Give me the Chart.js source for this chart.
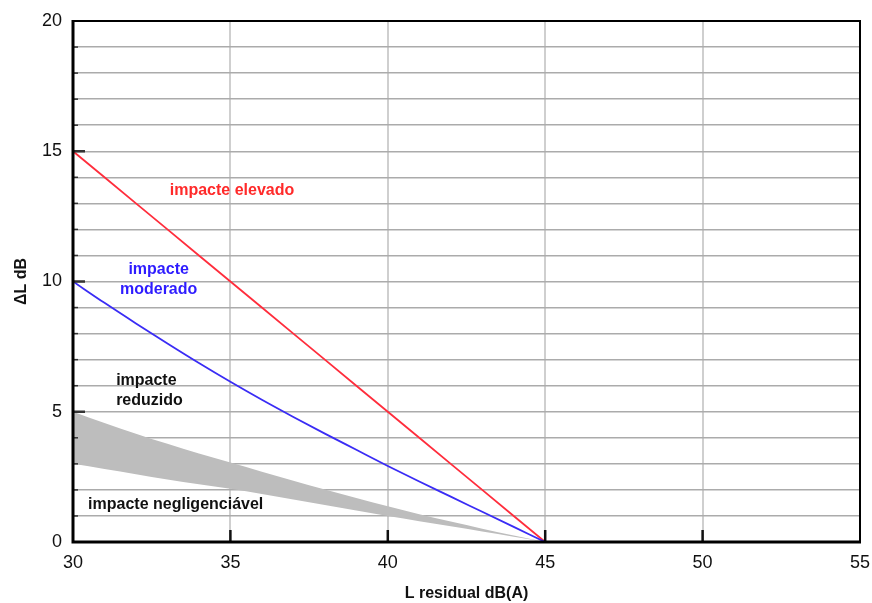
<!DOCTYPE html>
<html><head><meta charset="utf-8">
<script src="https://cdn.jsdelivr.net/npm/chart.js@4/dist/chart.umd.min.js"></script>
<style>html,body{margin:0;padding:0;background:#fff}#wrap{width:872px;height:603px}</style>
</head><body><div id="wrap"><canvas id="c" width="872" height="603"></canvas></div>
<script>
const xValues = [30,31,32,33,34,35,36,37,38,39,40,41,42,43,44,45];
const elevadoLine = [15,14,13,12,11,10,9,8,7,6,5,4,3,2,1,0];
const moderadoLine = [10,9.18,8.39,7.62,6.87,6.15,5.46,4.80,4.16,3.54,2.92,2.32,1.74,1.16,0.58,0];
const bandUpper = [5,4.57,4.16,3.77,3.40,3.05,2.70,2.355,2.02,1.69,1.37,1.07,0.785,0.51,0.25,0];
const bandLower = [3,2.8,2.6,2.4,2.22,2.04,1.84,1.63,1.42,1.21,1.0,0.8,0.6,0.4,0.2,0];
const xTicks = [30,35,40,45,50,55];
const yTicks = [0,5,10,15,20];
const regionLabels = [
  {lines:['impacte elevado'], x:35.05, y:13.5, color:'#ff2a2a', align:'center'},
  {lines:['impacte','moderado'], x:32.72, y:10.44, color:'#2e1cff', align:'center'},
  {lines:['impacte','reduzido'], x:31.37, y:6.2, color:'#111', align:'left'},
  {lines:['impacte negligenciável'], x:30.48, y:1.42, color:'#111', align:'left'}
];
const pts = arr => xValues.map((x,i)=>({x, y:arr[i]}));
const FONT = '"Liberation Sans", Arial, sans-serif';

const framePlugin = {
  id:'frame',
  afterDatasetsDraw(chart){
    const {ctx, chartArea:a, scales:{x, y}} = chart;
    ctx.save();
    ctx.strokeStyle = '#333';
    for (let v=1; v<20; v++){
      const py = y.getPixelForValue(v);
      const major = v % 5 === 0;
      ctx.lineWidth = major ? 2.5 : 1.5;
      ctx.beginPath(); ctx.moveTo(a.left, py); ctx.lineTo(a.left + (major ? 12 : 5), py); ctx.stroke();
    }
    ctx.strokeStyle = '#111';
    ctx.lineWidth = 2.5;
    for (const v of [35,40,45,50]){
      const px = x.getPixelForValue(v);
      ctx.beginPath(); ctx.moveTo(px, a.bottom); ctx.lineTo(px, a.bottom - 12); ctx.stroke();
    }
    ctx.strokeStyle = '#000';
    ctx.lineWidth = 2;
    ctx.strokeRect(a.left, a.top, a.right - a.left, a.bottom - a.top);
    ctx.lineWidth = 3;
    ctx.beginPath(); ctx.moveTo(a.left, a.top-1); ctx.lineTo(a.left, a.bottom); ctx.lineTo(a.right+1, a.bottom); ctx.stroke();
    ctx.font = 'bold 16px ' + FONT;
    ctx.textBaseline = 'middle';
    for (const L of regionLabels){
      ctx.fillStyle = L.color;
      ctx.textAlign = L.align;
      const px = x.getPixelForValue(L.x);
      let py = y.getPixelForValue(L.y);
      for (const line of L.lines){ ctx.fillText(line, px, py); py += 20; }
    }
    ctx.restore();
  }
};

new Chart(document.getElementById('c'), {
  type:'line',
  data:{
    datasets:[
      {label:'upper', data:pts(bandUpper), borderWidth:0, pointRadius:0, fill:'+1', backgroundColor:'#bdbdbd', cubicInterpolationMode:'monotone', order:3},
      {label:'lower', data:pts(bandLower), borderWidth:0, pointRadius:0, fill:false, cubicInterpolationMode:'monotone', order:3},
      {label:'moderado', data:pts(moderadoLine), borderColor:'#3a2cf5', borderWidth:1.8, pointRadius:0, fill:false, cubicInterpolationMode:'monotone', order:1},
      {label:'elevado', data:pts(elevadoLine), borderColor:'#ff2d3c', borderWidth:1.8, pointRadius:0, fill:false, order:1}
    ]
  },
  options:{
    responsive:false, animation:false,
    layout:{padding:{top:21, right:12, left:0, bottom:0}},
    plugins:{legend:{display:false}, tooltip:{enabled:false}, filler:{propagate:false}},
    scales:{
      x:{type:'linear', min:30, max:55,
        afterBuildTicks(s){ s.ticks = xTicks.map(v=>({value:v})); },
        afterFit(s){ s.height = 61; s.paddingLeft = 0; s.paddingRight = 0; },
        grid:{color:'#cfcfcf', lineWidth:2, drawTicks:false},
        border:{display:false},
        ticks:{padding:10, color:'#111', font:{size:18, family:FONT}, autoSkip:false, maxRotation:0},
        title:{display:true, text:'L residual dB(A)', color:'#111', font:{size:16, weight:'bold', family:FONT}, padding:{top:9,bottom:0}}
      },
      y:{type:'linear', min:0, max:20,
        afterBuildTicks(s){ const t=[]; for(let v=0; v<=20; v++) t.push({value:v}); s.ticks=t; },
        afterFit(s){ s.width = 73; s.paddingTop = 0; s.paddingBottom = 0; },
        grid:{color:'#ababab', lineWidth:1.5, drawTicks:false},
        border:{display:false},
        ticks:{padding:11, color:'#111', autoSkip:false, font:{size:18, family:FONT},
          callback:(v)=> yTicks.includes(v) ? String(v) : ''},
        title:{display:true, text:'ΔL dB', color:'#111', font:{size:16, weight:'bold', family:FONT}, padding:{top:12,bottom:0}}
      }
    }
  },
  plugins:[framePlugin]
});
</script></body></html>
